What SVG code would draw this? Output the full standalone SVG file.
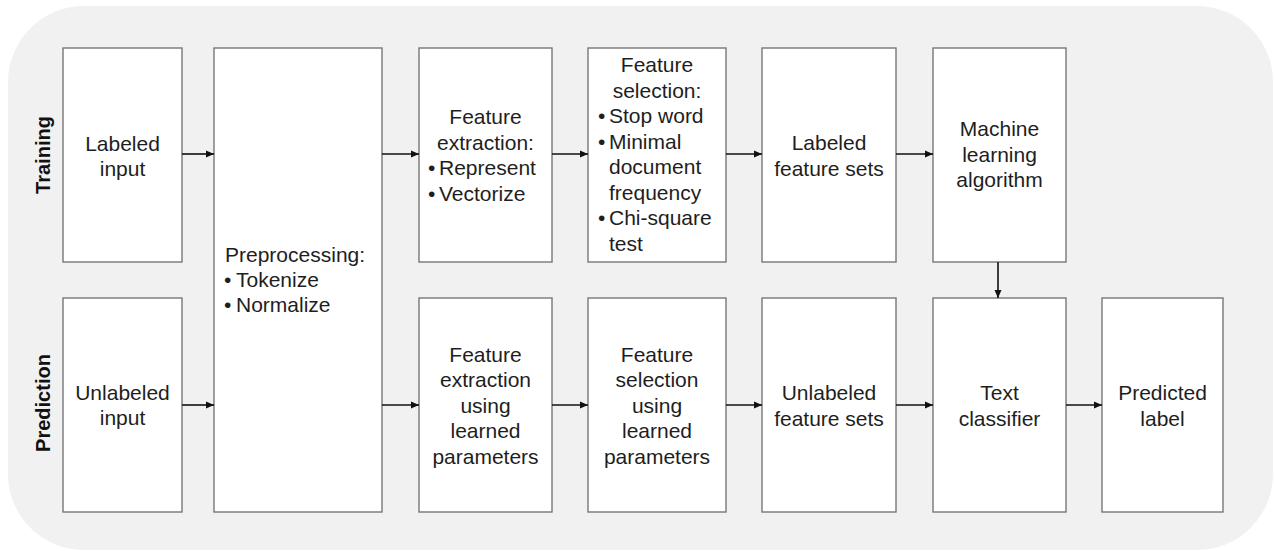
<svg xmlns="http://www.w3.org/2000/svg" width="1274" height="551" viewBox="0 0 1274 551">
<style>
.box{fill:#ffffff;stroke:#777777;stroke-width:1.4}
.t{font-family:"Liberation Sans",Arial,sans-serif;font-size:21px;fill:#1e1e1e}
.c{text-anchor:middle}
.lane{font-family:"Liberation Sans",Arial,sans-serif;font-size:20px;font-weight:bold;fill:#111111;text-anchor:middle}
.conn{stroke:#111111;stroke-width:1.6;fill:none;marker-end:url(#ah)}
</style>
<defs>
<marker id="ah" markerWidth="9" markerHeight="9" refX="8" refY="4.5" orient="auto" markerUnits="userSpaceOnUse">
<path d="M0,1 L8,4.5 L0,8 Z" fill="#111111"/>
</marker>
</defs>
<rect x="8" y="6" width="1265" height="544" rx="76" ry="76" fill="#f1f1f1"/>
<text class="lane" x="50" y="155" transform="rotate(-90 50 155)">Training</text>
<text class="lane" x="50" y="403" transform="rotate(-90 50 403)">Prediction</text>
<g id="labeled-input">
<rect class="box" x="63" y="48" width="119" height="214"/>
<text class="t c"><tspan x="122.5" y="151">Labeled</tspan><tspan x="122.5" y="176">input</tspan></text>
</g>
<g id="unlabeled-input">
<rect class="box" x="63" y="298" width="119" height="214"/>
<text class="t c"><tspan x="122.5" y="400">Unlabeled</tspan><tspan x="122.5" y="425">input</tspan></text>
</g>
<g id="preprocessing">
<rect class="box" x="214" y="48" width="168" height="464"/>
<text class="t"><tspan x="225" y="262">Preprocessing:</tspan></text>
<text class="t"><tspan x="224" y="287">•</tspan><tspan x="236">Tokenize</tspan></text>
<text class="t"><tspan x="224" y="312">•</tspan><tspan x="236">Normalize</tspan></text>
</g>
<g id="feature-extraction">
<rect class="box" x="419" y="48" width="133" height="214"/>
<text class="t c"><tspan x="485.5" y="124">Feature</tspan><tspan x="485.5" y="149.5">extraction:</tspan></text>
<text class="t"><tspan x="428" y="175">•</tspan><tspan x="439">Represent</tspan></text>
<text class="t"><tspan x="428" y="200.5">•</tspan><tspan x="439">Vectorize</tspan></text>
</g>
<g id="feature-selection">
<rect class="box" x="588" y="48" width="138" height="214"/>
<text class="t c"><tspan x="657" y="72">Feature</tspan><tspan x="657" y="97.5">selection:</tspan></text>
<text class="t"><tspan x="598" y="123">•</tspan><tspan x="609">Stop word</tspan></text>
<text class="t"><tspan x="598" y="148.5">•</tspan><tspan x="609">Minimal</tspan></text>
<text class="t"><tspan x="609" y="174">document</tspan></text>
<text class="t"><tspan x="609" y="199.5">frequency</tspan></text>
<text class="t"><tspan x="598" y="225">•</tspan><tspan x="609">Chi-square</tspan></text>
<text class="t"><tspan x="609" y="250.5">test</tspan></text>
</g>
<g id="labeled-feature-sets">
<rect class="box" x="762" y="48" width="134" height="214"/>
<text class="t c"><tspan x="829" y="150">Labeled</tspan><tspan x="829" y="175.5">feature sets</tspan></text>
</g>
<g id="machine-learning">
<rect class="box" x="933" y="48" width="133" height="214"/>
<text class="t c"><tspan x="999.5" y="136">Machine</tspan><tspan x="999.5" y="161.5">learning</tspan><tspan x="999.5" y="187">algorithm</tspan></text>
</g>
<g id="feature-extraction-learned">
<rect class="box" x="419" y="298" width="133" height="214"/>
<text class="t c"><tspan x="485.5" y="361.5">Feature</tspan><tspan x="485.5" y="387">extraction</tspan><tspan x="485.5" y="412.5">using</tspan><tspan x="485.5" y="438">learned</tspan><tspan x="485.5" y="463.5">parameters</tspan></text>
</g>
<g id="feature-selection-learned">
<rect class="box" x="588" y="298" width="138" height="214"/>
<text class="t c"><tspan x="657" y="361.5">Feature</tspan><tspan x="657" y="387">selection</tspan><tspan x="657" y="412.5">using</tspan><tspan x="657" y="438">learned</tspan><tspan x="657" y="463.5">parameters</tspan></text>
</g>
<g id="unlabeled-feature-sets">
<rect class="box" x="762" y="298" width="134" height="214"/>
<text class="t c"><tspan x="829" y="400">Unlabeled</tspan><tspan x="829" y="425.5">feature sets</tspan></text>
</g>
<g id="text-classifier">
<rect class="box" x="933" y="298" width="133" height="214"/>
<text class="t c"><tspan x="999.5" y="400">Text</tspan><tspan x="999.5" y="425.5">classifier</tspan></text>
</g>
<g id="predicted-label">
<rect class="box" x="1102" y="298" width="121" height="214"/>
<text class="t c"><tspan x="1162.5" y="400">Predicted</tspan><tspan x="1162.5" y="425.5">label</tspan></text>
</g>
<g id="connectors">
<line class="conn" x1="182" y1="154" x2="214" y2="154"/>
<line class="conn" x1="382" y1="154" x2="419" y2="154"/>
<line class="conn" x1="552" y1="154" x2="588" y2="154"/>
<line class="conn" x1="726" y1="154" x2="762" y2="154"/>
<line class="conn" x1="896" y1="154" x2="933" y2="154"/>
<line class="conn" x1="182" y1="405" x2="214" y2="405"/>
<line class="conn" x1="382" y1="405" x2="419" y2="405"/>
<line class="conn" x1="552" y1="405" x2="588" y2="405"/>
<line class="conn" x1="726" y1="405" x2="762" y2="405"/>
<line class="conn" x1="896" y1="405" x2="933" y2="405"/>
<line class="conn" x1="1066" y1="405" x2="1102" y2="405"/>
<line class="conn" x1="998" y1="262" x2="998" y2="298"/>
</g>
</svg>
